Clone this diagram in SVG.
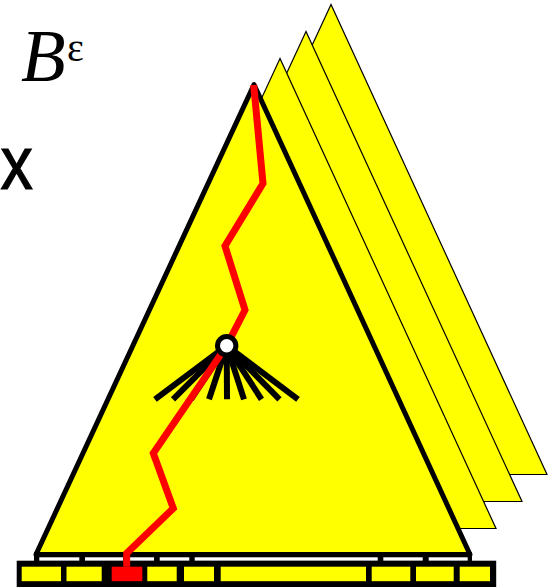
<svg xmlns="http://www.w3.org/2000/svg" width="556" height="587" viewBox="0 0 556 587">
<style>
.back{fill:#ffff00;stroke:#000;stroke-width:1.2;stroke-linejoin:miter}
.main{fill:#ffff00;stroke:#000;stroke-width:5;stroke-linejoin:round}
.fan{stroke:#000;stroke-width:6;stroke-linecap:butt}
.path{fill:none;stroke:#ff0000;stroke-width:7;stroke-linejoin:miter;stroke-linecap:butt}
.cell{fill:#ffff00}
.slot{fill:#fff}
</style>
<defs>
<polygon id="tri" points="254,84.5 36,554.5 470,554.5"/>
</defs>
<g id="back-trees">
<use href="#tri" class="back" transform="translate(77,-80)"/>
<use href="#tri" class="back" transform="translate(52,-53)"/>
<use href="#tri" class="back" transform="translate(26,-26)"/>
</g>
<g id="main-tree">
<use href="#tri" class="main"/>
</g>
<g id="slots">
<rect x="34" y="552" width="438" height="10" fill="#000"/>
<rect class="slot" x="39.3" y="557.3" width="40" height="3.6"/>
<rect class="slot" x="85" y="557.3" width="38" height="3.6"/>
<rect class="slot" x="129" y="557.3" width="25" height="3.6"/>
<rect class="slot" x="159.7" y="557.3" width="29.6" height="3.6"/>
<rect class="slot" x="194.7" y="557.3" width="183" height="3.6"/>
<rect class="slot" x="383.3" y="557.3" width="39.4" height="3.6"/>
<rect class="slot" x="428.7" y="557.3" width="39" height="3.6"/>
</g>
<g id="bar">
<rect x="16.7" y="560.7" width="479.5" height="26.3" fill="#000"/>
<rect class="cell" x="21.7" y="566.7" width="39.3" height="14.5"/>
<rect class="cell" x="66.5" y="566.7" width="35.2" height="14.5"/>
<rect x="111.7" y="566.7" width="30.6" height="14.5" fill="#ff0000"/>
<rect class="cell" x="147.3" y="566.7" width="29.4" height="14.5"/>
<rect class="cell" x="184" y="566.7" width="30" height="14.5"/>
<rect class="cell" x="220.7" y="566.7" width="145.3" height="14.5"/>
<rect class="cell" x="371.7" y="566.7" width="38.6" height="14.5"/>
<rect class="cell" x="416" y="566.7" width="37.7" height="14.5"/>
<rect class="cell" x="459.7" y="566.7" width="30.3" height="14.5"/>
</g>
<g id="fan">
<line class="fan" x1="226.7" y1="345.7" x2="155" y2="399.3"/>
<line class="fan" x1="226.7" y1="345.7" x2="173" y2="399.3"/>
<line class="fan" x1="226.7" y1="345.7" x2="191" y2="399.3"/>
<line class="fan" x1="226.7" y1="345.7" x2="209" y2="399.3"/>
<line class="fan" x1="226.7" y1="345.7" x2="227" y2="399.3"/>
<line class="fan" x1="226.7" y1="345.7" x2="244" y2="399.3"/>
<line class="fan" x1="226.7" y1="345.7" x2="261.5" y2="399.3"/>
<line class="fan" x1="226.7" y1="345.7" x2="279.5" y2="399.3"/>
<line class="fan" x1="226.7" y1="345.7" x2="298" y2="399.3"/>
</g>
<g id="connectors">
<polyline class="path" points="253.7,85 263,183.5 225,246 245,310 226.7,345.7 153.3,453.3 173.3,508.3 126.7,553.3 126.7,566.7"/>
</g>
<g id="node">
<circle cx="226.7" cy="345.7" r="9.2" fill="#fff" stroke="#000" stroke-width="5"/>
</g>
<g id="labels">
<text x="21" y="81" font-family="Liberation Serif, serif" font-style="italic" font-size="73">B</text>
<text x="67" y="61" font-family="Liberation Serif, serif" font-size="40">ε</text>
<text transform="translate(0.5,189) scale(0.85,1)" x="0" y="0" font-family="Liberation Sans, sans-serif" font-size="76" stroke="#000" stroke-width="1.2">x</text>
</g>
</svg>
